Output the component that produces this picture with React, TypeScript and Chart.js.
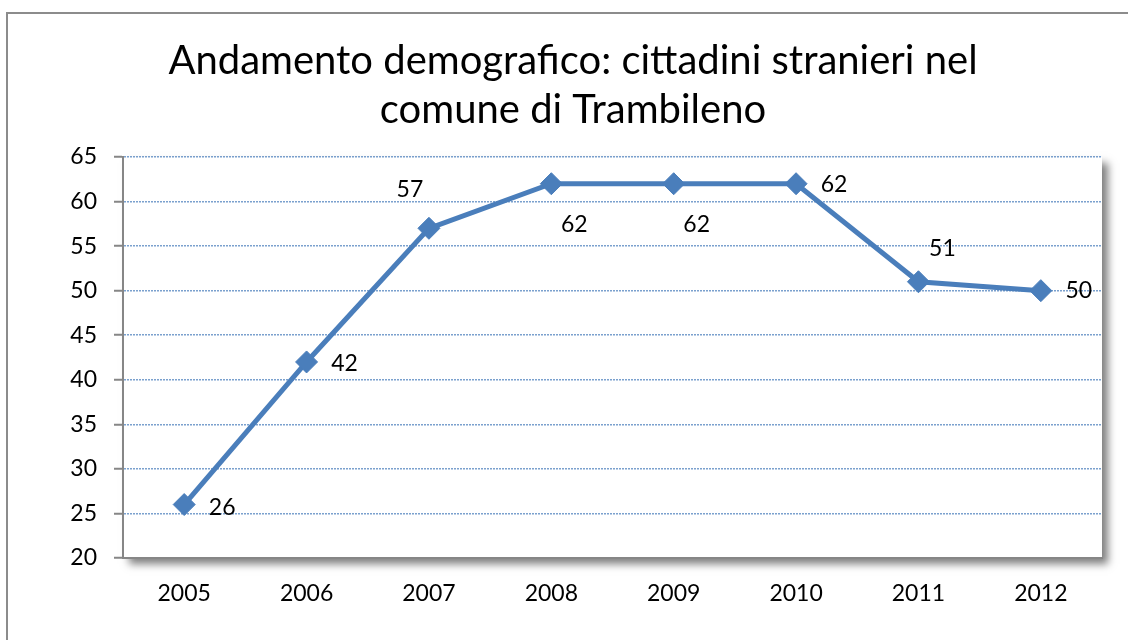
import React, { useEffect, useRef } from 'react';
import { Chart, registerables } from 'chart.js';

Chart.register(...registerables);

const years = ['2005', '2006', '2007', '2008', '2009', '2010', '2011', '2012'];
const foreignResidents = [26, 42, 57, 62, 62, 62, 51, 50];
const yMin = 20;
const yMax = 65;
const yStep = 5;
const titleLines = ['Andamento demografico: cittadini stranieri nel', 'comune di Trambileno'];

const FONT = 'Lato, "Open Sans", sans-serif';
const LINE_COLOR = '#4A7EBB';

// label offsets (style only): [dx, dy] from point centre
const labelOffsets: [number, number][] = [
  [38, 3],
  [38, 2],
  [-19, -39],
  [23, 41],
  [23, 41],
  [38, 1],
  [24, -33],
  [38, 0],
];

const decorPlugin = {
  id: 'decor',
  beforeDraw(chart: any) {
    const { ctx, chartArea: a, width, height } = chart;
    ctx.save();
    ctx.fillStyle = '#ffffff';
    ctx.fillRect(0, 0, width, height);
    // outer frame (top + left visible)
    ctx.strokeStyle = '#8c8c8c';
    ctx.lineWidth = 2;
    ctx.beginPath();
    ctx.moveTo(7, height + 5);
    ctx.lineTo(7, 13);
    ctx.lineTo(width + 5, 13);
    ctx.stroke();
    // plot area shadow
    ctx.shadowColor = 'rgba(0,0,0,0.5)';
    ctx.shadowBlur = 8;
    ctx.shadowOffsetX = 6;
    ctx.shadowOffsetY = 6;
    ctx.fillStyle = '#ffffff';
    ctx.fillRect(a.left, a.top, a.right - a.left, a.bottom - a.top);
    ctx.restore();
    // title
    ctx.save();
    ctx.fillStyle = '#000000';
    ctx.font = `40px ${FONT}`;
    ctx.textAlign = 'center';
    ctx.textBaseline = 'alphabetic';
    ctx.fillText(titleLines[0], 573, 74);
    ctx.fillText(titleLines[1], 573, 123);
    ctx.restore();
  },
  afterDatasetsDraw(chart: any) {
    const { ctx } = chart;
    const meta = chart.getDatasetMeta(0);
    const data = chart.data.datasets[0].data as number[];
    ctx.save();
    ctx.fillStyle = '#000000';
    ctx.font = `23px ${FONT}`;
    ctx.textAlign = 'center';
    ctx.textBaseline = 'middle';
    meta.data.forEach((pt: any, i: number) => {
      const [dx, dy] = labelOffsets[i] || [0, 0];
      ctx.fillText(String(data[i]), pt.x + dx, pt.y + dy);
    });
    ctx.restore();
  },
};

export default function App() {
  const ref = useRef<HTMLCanvasElement | null>(null);
  useEffect(() => {
    if (!ref.current) return;
    const chart = new Chart(ref.current, {
      type: 'line',
      data: {
        labels: years,
        datasets: [
          {
            data: foreignResidents,
            borderColor: LINE_COLOR,
            backgroundColor: LINE_COLOR,
            borderWidth: 5,
            pointStyle: 'rectRot',
            pointRadius: 11,
            pointBorderWidth: 1,
            pointBackgroundColor: LINE_COLOR,
            pointBorderColor: LINE_COLOR,
            tension: 0,
            fill: false,
          },
        ],
      },
      options: {
        responsive: false,
        animation: false,
        layout: { padding: { top: 157, left: 0, right: 26, bottom: 0 } },
        plugins: {
          legend: { display: false },
          tooltip: { enabled: false },
          title: { display: false },
        },
        scales: {
          x: {
            offset: true,
            grid: { display: false, drawTicks: false },
            border: { display: true, color: '#868686', width: 2 },
            ticks: {
              color: '#000000',
              font: { family: FONT, size: 23 },
              padding: 22,
              maxRotation: 0,
            },
            afterFit: (s: any) => {
              s.height = 82;
            },
          },
          y: {
            min: yMin,
            max: yMax,
            ticks: {
              stepSize: yStep,
              color: '#000000',
              font: { family: FONT, size: 23 },
              padding: 17,
            },
            grid: {
              color: 'rgba(79,129,189,0.75)',
              lineWidth: 1.5,
              tickColor: '#868686',
              tickLength: 9,
              tickWidth: 2,
            },
            border: { display: true, color: '#868686', width: 2, dash: [2, 1] },
            afterFit: (s: any) => {
              s.width = 123;
            },
          },
        },
      },
      plugins: [decorPlugin],
    });
    return () => chart.destroy();
  }, []);
  return (
    <div style={{ position: 'absolute', left: 0, top: 0, width: 1128, height: 640 }}>
      <canvas ref={ref} width={1128} height={640} />
    </div>
  );
}
